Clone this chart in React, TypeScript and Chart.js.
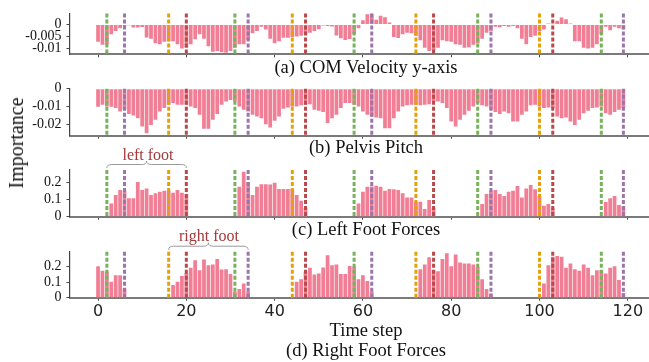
import React, { useEffect, useRef } from 'react';
import { Chart, registerables } from 'chart.js';

Chart.register(...registerables);

// ---------------- data ----------------
const timeSteps: number[] = Array.from({ length: 120 }, (_, i) => i);

const comVelocityY = [
  -0.0071, -0.0084, -0.0082, -0.0040, -0.0027, -0.0015, -0.0006, -0.0003, -0.0012, -0.0012,
  -0.0010, -0.0054, -0.0059, -0.0077, -0.0081, -0.0071, -0.0069, -0.0069, -0.0081, -0.0099,
  -0.0096, -0.0081, -0.0061, -0.0040, -0.0059, -0.0090, -0.0112, -0.0109, -0.0115, -0.0117,
  -0.0109, -0.0096, -0.0081, -0.0081, -0.0065, -0.0036, -0.0027, -0.0009, -0.0021, -0.0059,
  -0.0077, -0.0069, -0.0055, -0.0055, -0.0052, -0.0049, -0.0046, -0.0040, -0.0034, -0.0027,
  -0.0019, -0.0004, -0.0006, -0.0008, -0.0045, -0.0057, -0.0064, -0.0060, -0.0040, -0.0015,
  0.0018, 0.0042, 0.0046, 0.0020, 0.0036, 0.0030, 0.0008, -0.0052, -0.0056, -0.0040,
  -0.0034, -0.0036, -0.0046, -0.0065, -0.0096, -0.0109, -0.0106, -0.0096, -0.0065, -0.0069,
  -0.0071, -0.0081, -0.0084, -0.0096, -0.0094, -0.0084, -0.0077, -0.0059, -0.0034, -0.0027,
  -0.0009, -0.0011, -0.0006, -0.0009, -0.0006, -0.0015, -0.0059, -0.0081, -0.0052, -0.0046,
  -0.0027, -0.0021, 0.0004, 0.0001, 0.0016, 0.0029, 0.0022, 0.0004, -0.0069, -0.0069,
  -0.0096, -0.0099, -0.0096, -0.0081, -0.0040, -0.0009, -0.0024, -0.0009, -0.0015, -0.0020,
];

const pelvisPitch = [
  -0.0102, -0.0091, -0.0100, -0.0102, -0.0109, -0.0128, -0.0119, -0.0143, -0.0151, -0.0166,
  -0.0213, -0.0251, -0.0204, -0.0175, -0.0128, -0.0109, -0.0091, -0.0081, -0.0091, -0.0091,
  -0.0091, -0.0100, -0.0109, -0.0147, -0.0226, -0.0226, -0.0175, -0.0143, -0.0091, -0.0072,
  -0.0064, -0.0072, -0.0100, -0.0119, -0.0128, -0.0147, -0.0157, -0.0166, -0.0200, -0.0219,
  -0.0181, -0.0157, -0.0113, -0.0106, -0.0100, -0.0100, -0.0094, -0.0091, -0.0087, -0.0119,
  -0.0125, -0.0132, -0.0194, -0.0166, -0.0147, -0.0109, -0.0081, -0.0081, -0.0091, -0.0100,
  -0.0128, -0.0147, -0.0157, -0.0162, -0.0166, -0.0223, -0.0223, -0.0166, -0.0128, -0.0100,
  -0.0094, -0.0091, -0.0091, -0.0094, -0.0091, -0.0087, -0.0072, -0.0072, -0.0081, -0.0109,
  -0.0185, -0.0213, -0.0175, -0.0147, -0.0125, -0.0100, -0.0081, -0.0094, -0.0100, -0.0119,
  -0.0132, -0.0143, -0.0128, -0.0138, -0.0185, -0.0185, -0.0147, -0.0128, -0.0094, -0.0091,
  -0.0100, -0.0109, -0.0106, -0.0109, -0.0157, -0.0166, -0.0162, -0.0185, -0.0204, -0.0175,
  -0.0138, -0.0125, -0.0109, -0.0106, -0.0100, -0.0138, -0.0147, -0.0132, -0.0119, -0.0109,
];

const leftFootForces = [
  0, 0, 0, 0.077, 0.125, 0.154, 0.150, 0.106, 0.106, 0.200,
  0.154, 0.163, 0.125, 0.135, 0.144, 0.150, 0.150, 0.138, 0.154, 0.138,
  0.130, 0, 0, 0, 0, 0, 0, 0, 0, 0,
  0, 0, 0.173, 0.260, 0.200, 0.125, 0.173, 0.188, 0.188, 0.186,
  0.196, 0.160, 0.160, 0.160, 0.160, 0.125, 0.092, 0.050, 0, 0,
  0, 0, 0, 0, 0, 0, 0, 0, 0, 0.077,
  0.144, 0.173, 0.175, 0.179, 0.173, 0.150, 0.160, 0.158, 0.154, 0.135,
  0.111, 0.111, 0.087, 0.087, 0.044, 0.096, 0.050, 0, 0, 0,
  0, 0, 0, 0, 0, 0, 0, 0.073, 0.131, 0.150,
  0.154, 0.131, 0.119, 0.144, 0.150, 0.177, 0.111, 0.163, 0.183, 0.158,
  0.120, 0.063, 0.073, 0.050, 0, 0, 0, 0, 0, 0,
  0, 0, 0, 0, 0, 0.085, 0.106, 0.119, 0.067, 0.060,
];

const rightFootForces = [
  0.204, 0.174, 0.170, 0.103, 0.146, 0.146, 0.060, 0, 0, 0,
  0, 0, 0, 0, 0, 0, 0, 0.082, 0.103, 0.140,
  0.160, 0.194, 0.243, 0.178, 0.247, 0.210, 0.215, 0.250, 0.183, 0.185,
  0.153, 0.039, 0.056, 0.092, 0.040, 0, 0, 0, 0, 0,
  0, 0, 0, 0, 0, 0.103, 0.120, 0.170, 0.194, 0.150,
  0.157, 0.196, 0.275, 0.210, 0.215, 0.153, 0.153, 0.206, 0.200, 0.120,
  0.146, 0.108, 0.040, 0, 0, 0, 0, 0, 0, 0,
  0, 0, 0, 0.185, 0.215, 0.262, 0.180, 0.172, 0.250, 0.288,
  0.204, 0.280, 0.228, 0.222, 0.222, 0.215, 0.200, 0.120, 0.056, 0.028,
  0, 0, 0, 0, 0, 0, 0, 0, 0, 0,
  0, 0.092, 0.210, 0.265, 0.270, 0.265, 0.194, 0.222, 0.185, 0.174,
  0.215, 0.194, 0.146, 0.178, 0.178, 0.157, 0.194, 0.204, 0.114, 0.030,
];

// event markers (time steps)
const greenSteps = [2, 31, 58, 86, 114];
const purpleSteps = [6, 34, 62, 89, 119];
const orangeSteps = [16, 44, 72, 100];
const brownSteps = [20, 47, 76, 103];

// annotation spans
const leftFootSpan = [2, 20];
const rightFootSpan = [16, 34];

// ticks
const xTicks = [0, 20, 40, 60, 80, 100, 120];
const comTicks = [0, -0.005, -0.01];
const comTickLabels = ['0', '-0.005', '-0.01'];
const pelvisTicks = [0, -0.01, -0.02];
const pelvisTickLabels = ['0', '-0.01', '-0.02'];
const forceTicks = [0, 0.1, 0.2];
const forceTickLabels = ['0', '0.1', '0.2'];

// ---------------- styling / layout ----------------
const W = 649;
const H = 362;
const X_MIN = -6.35;
const X_MAX = 124.8;
const PINK = '#f07f96';
const MARKERS: [number[], string][] = [
  [greenSteps, '#78b25c'],
  [purpleSteps, '#9b76ab'],
  [orangeSteps, '#e3a10a'],
  [brownSteps, '#b94a4a'],
];
const SERIF = "'Liberation Serif', 'Times New Roman', serif";

type Panel = {
  id: string;
  values: number[];
  yMin: number;
  yMax: number;
  yTicks: number[];
  yTickLabels: string[];
  top: number;
  bottom: number;
  showXLabels: boolean;
  brace: number[] | null;
};

const PANELS: Panel[] = [
  { id: 'a', values: comVelocityY, yMin: -0.0123, yMax: 0.0046, yTicks: comTicks, yTickLabels: comTickLabels, top: 8.3, bottom: 54.3, showXLabels: false, brace: null },
  { id: 'b', values: pelvisPitch, yMin: -0.0265, yMax: 0, yTicks: pelvisTicks, yTickLabels: pelvisTickLabels, top: 88.7, bottom: 135.7, showXLabels: false, brace: null },
  { id: 'c', values: leftFootForces, yMin: 0, yMax: 0.27, yTicks: forceTicks, yTickLabels: forceTickLabels, top: 170, bottom: 216.7, showXLabels: false, brace: leftFootSpan },
  { id: 'd', values: rightFootForces, yMin: 0, yMax: 0.298, yTicks: forceTicks, yTickLabels: forceTickLabels, top: 251.7, bottom: 297.7, showXLabels: true, brace: rightFootSpan },
];

function PanelChart({ panel }: { panel: Panel }) {
  const ref = useRef<HTMLCanvasElement>(null);
  useEffect(() => {
    const canvas = ref.current;
    if (!canvas) return;
    const xh = panel.showXLabels ? 30 : 4;

    const markerPlugin = {
      id: 'markers' + panel.id,
      afterDatasetsDraw(chart: any) {
        const { ctx, chartArea, scales } = chart;
        const xs = scales.x;
        ctx.save();
        ctx.lineWidth = 3;
        ctx.setLineDash([4, 2]);
        for (const [steps, color] of MARKERS) {
          ctx.strokeStyle = color;
          for (const s of steps) {
            const px = xs.getPixelForValue(s);
            ctx.beginPath();
            ctx.moveTo(px, chartArea.top);
            ctx.lineTo(px, chartArea.bottom);
            ctx.stroke();
          }
        }
        ctx.setLineDash([]);
        if (panel.brace) {
          const x1 = xs.getPixelForValue(panel.brace[0]);
          const x2 = xs.getPixelForValue(panel.brace[1]);
          const xm = (x1 + x2) / 2;
          const yb = chartArea.top - 2;
          const ym = chartArea.top - 5.5;
          const yt = chartArea.top - 9;
          const r = 5;
          ctx.strokeStyle = '#9a9a9a';
          ctx.lineWidth = 1;
          ctx.beginPath();
          ctx.moveTo(x1, yb);
          ctx.quadraticCurveTo(x1, ym, x1 + r, ym);
          ctx.lineTo(xm - r, ym);
          ctx.quadraticCurveTo(xm, ym, xm, yt);
          ctx.quadraticCurveTo(xm, ym, xm + r, ym);
          ctx.lineTo(x2 - r, ym);
          ctx.quadraticCurveTo(x2, ym, x2, yb);
          ctx.stroke();
        }
        ctx.restore();
      },
    };

    const chart = new Chart(canvas, {
      type: 'bar',
      data: {
        datasets: [
          {
            data: timeSteps.map((t, i) => ({ x: t, y: panel.values[i] })),
            backgroundColor: PINK,
            borderWidth: 0,
            barPercentage: 0.85,
            categoryPercentage: 1,
          } as any,
        ],
      },
      options: {
        responsive: false,
        animation: false,
        devicePixelRatio: 1,
        events: [],
        layout: { padding: { top: panel.top, bottom: H - panel.bottom - xh, left: 0, right: 0 } },
        plugins: { legend: { display: false }, tooltip: { enabled: false } },
        scales: {
          x: {
            type: 'linear',
            min: X_MIN,
            max: X_MAX,
            offset: false,
            afterBuildTicks: (s: any) => {
              s.ticks = xTicks.map((v) => ({ value: v }));
            },
            afterFit: (s: any) => {
              s.height = xh;
            },
            grid: { offset: false, drawOnChartArea: false, drawTicks: true, tickLength: 3, color: '#444', lineWidth: 1 },
            border: { display: true, color: '#7a7a7a', width: 2 },
            ticks: {
              display: panel.showXLabels,
              autoSkip: false,
              maxRotation: 0,
              padding: 2,
              color: '#222',
              font: { family: "'DejaVu Sans', sans-serif", size: 16 },
              callback: (v: any) => String(v),
            },
          },
          y: {
            type: 'linear',
            min: panel.yMin,
            max: panel.yMax,
            afterBuildTicks: (s: any) => {
              s.ticks = panel.yTicks.map((v) => ({ value: v }));
            },
            afterFit: (s: any) => {
              s.width = 70;
            },
            grid: { drawOnChartArea: false, drawTicks: true, tickLength: 3.5, color: '#444', lineWidth: 1 },
            border: { display: true, color: '#444', width: 1.2 },
            ticks: {
              padding: 5,
              color: '#111',
              font: { family: SERIF, size: 14 },
              callback: (_v: any, i: number) => panel.yTickLabels[i],
            },
          },
        },
      } as any,
      plugins: [markerPlugin],
    });
    return () => chart.destroy();
  }, [panel]);
  return (
    <canvas
      ref={ref}
      width={W}
      height={H}
      style={{ position: 'absolute', left: 0, top: 0, width: W, height: H }}
    />
  );
}

const captionStyle = (cy: number, size = 18.5, color = '#111'): React.CSSProperties => ({
  position: 'absolute',
  left: 366,
  top: cy,
  transform: 'translate(-50%, -50%)',
  fontFamily: SERIF,
  fontSize: size,
  lineHeight: 1,
  whiteSpace: 'nowrap',
  color,
});

export default function App() {
  return (
    <div style={{ position: 'fixed', left: 0, top: 0, width: W, height: H, overflow: 'hidden', background: '#fff' }}>
      {PANELS.map((p) => (
        <PanelChart key={p.id} panel={p} />
      ))}
      <div style={captionStyle(66.5)}>(a) COM Velocity y-axis</div>
      <div style={captionStyle(146.5)}>(b) Pelvis Pitch</div>
      <div style={captionStyle(228.5)}>(c) Left Foot Forces</div>
      <div style={captionStyle(329.5)}>Time step</div>
      <div style={captionStyle(349.5)}>(d) Right Foot Forces</div>
      <div style={{ ...captionStyle(154.5, 16, '#a43a3a'), left: 148 }}>left foot</div>
      <div style={{ ...captionStyle(235.5, 16, '#a43a3a'), left: 209 }}>right foot</div>
      <div
        style={{
          position: 'absolute',
          left: 16,
          top: 143,
          transform: 'translate(-50%, -50%) rotate(-90deg)',
          fontFamily: SERIF,
          fontSize: 20,
          lineHeight: 1,
          whiteSpace: 'nowrap',
          color: '#111',
        }}
      >
        Importance
      </div>
    </div>
  );
}
